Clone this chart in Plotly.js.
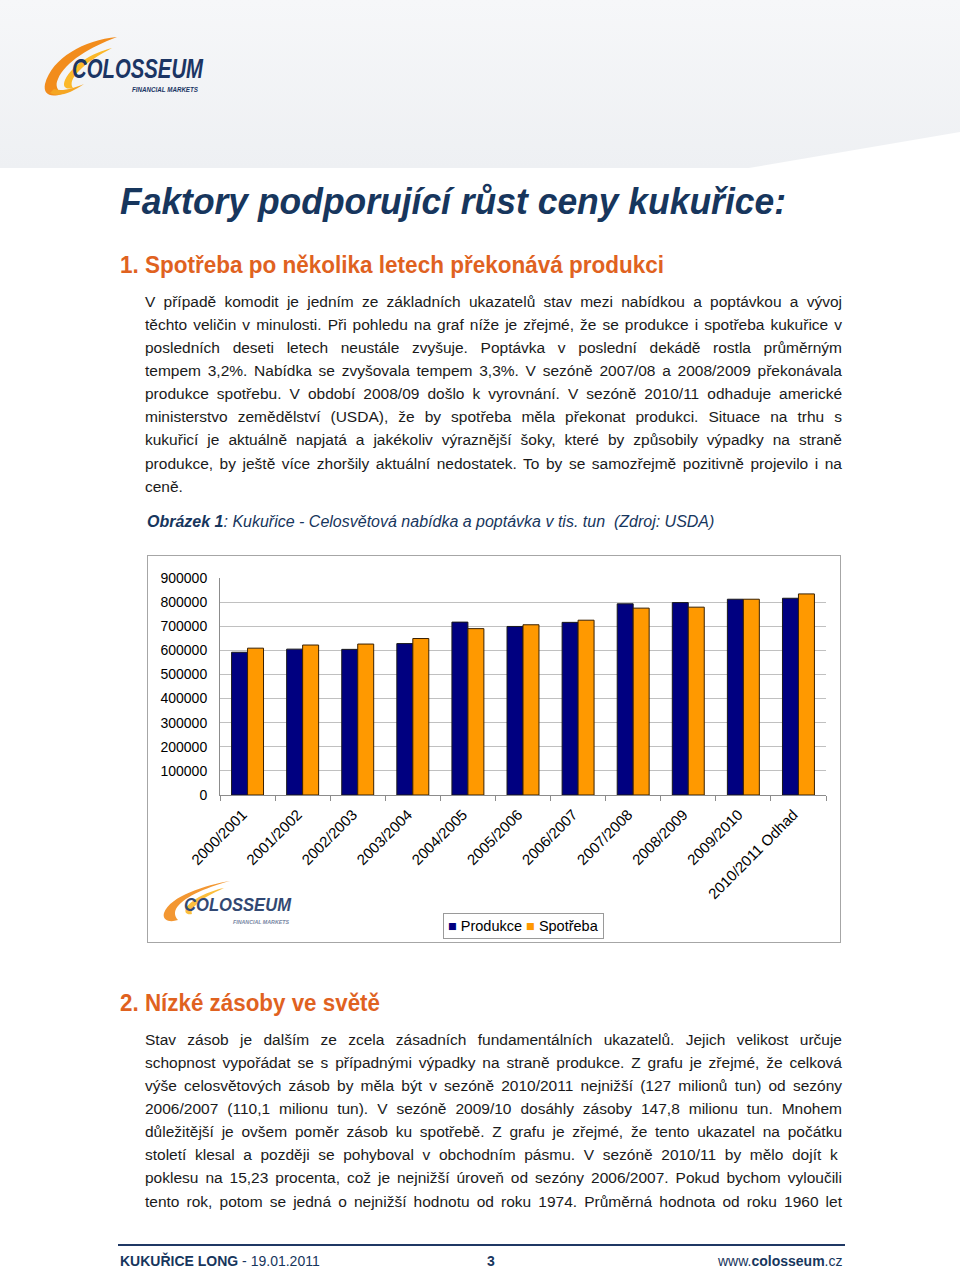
<!DOCTYPE html>
<html>
<head>
<meta charset="utf-8">
<script src="https://cdn.plot.ly/plotly-3.0.1.min.js"></script>
<style>
  html, body { margin:0; padding:0; background:#fff; }
  body { width:960px; height:1271px; position:relative; overflow:hidden;
         font-family:"Liberation Sans Narrow","Arial Narrow","Liberation Sans",Arial,sans-serif; color:#1a1a1a; }
  .hdrbg { position:absolute; left:0; top:0; width:960px; height:168px;
           background:linear-gradient(to bottom,#f6f7f9 0%,#eef0f3 100%);
           clip-path:polygon(0 0,100% 0,100% 132px,78% 100%,0 100%); }
  .abs { position:absolute; }
  .line { position:absolute; left:145px; width:697px; height:23px; line-height:23px;
          font-size:15.5px; white-space:nowrap; }
  .cap { position:absolute; left:147px; top:513px; font-family:"Liberation Sans",Arial,sans-serif;
         font-size:16px; font-style:italic; color:#17365d; white-space:nowrap; }
  #chartbox { position:absolute; left:147px; top:555px; width:694px; height:388px;
              border:1px solid #a6a6a6; box-sizing:border-box; background:#fff; }
  #chart { position:absolute; left:0; top:0; }
  .foot { position:absolute; top:1253px; font-size:14px; color:#17365d; white-space:nowrap; }
</style>
</head>
<body>
<div class="hdrbg"></div>

<!-- top logo -->
<svg class="abs" style="left:0;top:0" width="320" height="110">
  <path d="M117,37 C84,40 52,58 45,84 C43,94 50,98 62,94 C57,90 55,85 58,79 C65,62 90,47 117,37 Z" fill="#f28c1c"/>
  <path d="M112,48 C92,53 72,65 65,80 C62,87 66,90 73,88 C70,84 72,78 78,72 C87,62 99,55 112,48 Z" fill="#fbb829"/>
  <path d="M50,93 C60,98 72,92 84,84 C74,88 62,92 54,89 Z" fill="#f5a623"/>
  <text x="72" y="78" font-family="Liberation Sans, Arial, sans-serif" font-weight="bold" font-style="italic"
        font-size="27" textLength="131" lengthAdjust="spacingAndGlyphs" fill="#1b3564">COLOSSEUM</text>
  <text x="132" y="92" font-family="Liberation Sans, Arial, sans-serif" font-weight="bold" font-style="italic"
        font-size="7" textLength="66" lengthAdjust="spacingAndGlyphs" fill="#1b3564">FINANCIAL MARKETS</text>
</svg>

<!-- title & heading -->
<svg class="abs" style="left:0;top:160px" width="960" height="130">
  <text x="120" y="54" font-family="Liberation Sans, Arial, sans-serif" font-weight="bold" font-style="italic"
        font-size="37" textLength="666" lengthAdjust="spacingAndGlyphs" fill="#17365d">Faktory podporující růst ceny kukuřice:</text>
  <text x="120" y="113" font-family="Liberation Sans Narrow, Arial Narrow, Liberation Sans, Arial, sans-serif" font-weight="bold"
        font-size="23" textLength="544" lengthAdjust="spacingAndGlyphs" fill="#e0621f">1. Spotřeba po několika letech překonává produkci</text>
</svg>

<div id="para1"></div>

<div class="cap"><b>Obrázek 1</b>: Kukuřice - Celosvětová nabídka a poptávka v tis. tun&nbsp; (Zdroj: USDA)</div>

<div id="chartbox">
  <div id="chart"></div>
  <!-- chart logo -->
  <svg class="abs" style="left:0;top:0;pointer-events:none" width="694" height="388" opacity="0.9">
    <path d="M82,325 C58,329 22,340 16,357 C14,364 21,367 30,364 C27,361 26,357 28,353 C34,342 56,332 82,325 Z" fill="#f28c1c"/>
    <path d="M76,332 C61,335 44,343 38,352 C36,357 39,359 44,358 C43,355 44,352 48,349 C55,342 65,337 76,332 Z" fill="#fbb829"/>
    <text x="36" y="355" font-family="Liberation Sans, Arial, sans-serif" font-weight="bold" font-style="italic"
          font-size="19" textLength="107" lengthAdjust="spacingAndGlyphs" fill="#1b3564">COLOSSEUM</text>
    <text x="85" y="368" font-family="Liberation Sans, Arial, sans-serif" font-weight="bold" font-style="italic"
          font-size="5" textLength="56" lengthAdjust="spacingAndGlyphs" fill="#6b7a99">FINANCIAL MARKETS</text>
  </svg>
</div>

<svg class="abs" style="left:0;top:985px" width="960" height="40">
  <text x="120" y="26" font-family="Liberation Sans Narrow, Arial Narrow, Liberation Sans, Arial, sans-serif" font-weight="bold"
        font-size="23" textLength="260" lengthAdjust="spacingAndGlyphs" fill="#e0621f">2. Nízké zásoby ve světě</text>
</svg>

<div id="para2"></div>

<div class="abs" style="left:118px;top:1244px;width:727px;height:2px;background:#1f3864"></div>
<div class="foot" style="left:120px"><b>KUKUŘICE LONG</b> - 19.01.2011</div>
<div class="foot" style="left:487px"><b>3</b></div>
<div class="foot" style="left:718px">www.<b>colosseum</b>.cz</div>

<script>
// ---- chart data (thousand tonnes) ----
var categories = ["2000/2001","2001/2002","2002/2003","2003/2004","2004/2005","2005/2006",
                  "2006/2007","2007/2008","2008/2009","2009/2010","2010/2011 Odhad"];
var produkce = [592000, 605000, 604000, 628000, 717000, 699000, 716000, 793000, 798000, 812000, 816000];
var spotreba = [609000, 622000, 626000, 649000, 690000, 706000, 725000, 775000, 779000, 812000, 834000];
var seriesNames = ["Produkce", "Spotřeba"];
var seriesColors = ["#000080", "#ff9900"];

// ---- page text lines ----
var para1Lines = [
  "V případě komodit je jedním ze základních ukazatelů stav mezi nabídkou a poptávkou a vývoj",
  "těchto veličin v minulosti. Při pohledu na graf níže je zřejmé, že se produkce i spotřeba kukuřice v",
  "posledních deseti letech neustále zvyšuje. Poptávka v poslední dekádě rostla průměrným",
  "tempem 3,2%. Nabídka se zvyšovala tempem 3,3%. V sezóně 2007/08 a 2008/2009 překonávala",
  "produkce spotřebu. V období 2008/09 došlo k vyrovnání. V sezóně 2010/11 odhaduje americké",
  "ministerstvo zemědělství (USDA), že by spotřeba měla překonat produkci. Situace na trhu s",
  "kukuřicí je aktuálně napjatá a jakékoliv výraznější šoky, které by způsobily výpadky na straně",
  "produkce, by ještě více zhoršily aktuální nedostatek. To by se samozřejmě pozitivně projevilo i na",
  "ceně."
];
var para2Lines = [
  "Stav zásob je dalším ze zcela zásadních fundamentálních ukazatelů. Jejich velikost určuje",
  "schopnost vypořádat se s případnými výpadky na straně produkce. Z grafu je zřejmé, že celková",
  "výše celosvětových zásob by měla být v sezóně 2010/2011 nejnižší (127 milionů tun) od sezóny",
  "2006/2007 (110,1 milionu tun). V sezóně 2009/10 dosáhly zásoby 147,8 milionu tun. Mnohem",
  "důležitější je ovšem poměr zásob ku spotřebě. Z grafu je zřejmé, že tento ukazatel na počátku",
  "století klesal a později se pohyboval v  obchodním pásmu. V sezóně 2010/11 by mělo dojít k",
  "poklesu na 15,23 procenta, což je nejnižší úroveň od sezóny 2006/2007. Pokud bychom vyloučili",
  "tento rok, potom se jedná o nejnižší hodnotu od roku 1974. Průměrná hodnota od roku 1960 let"
];

function layLines(containerId, lines, firstCenter, step, lastJustified) {
  var box = document.getElementById(containerId);
  lines.forEach(function (txt, i) {
    var d = document.createElement("div");
    d.className = "line";
    d.style.top = (firstCenter + i * step - 11.5) + "px";
    var s = document.createElement("span");
    s.textContent = txt;
    d.appendChild(s);
    box.appendChild(d);
    var isLast = (i === lines.length - 1);
    if (!isLast || lastJustified) {
      var nat = s.getBoundingClientRect().width;
      var spaces = (txt.match(/ /g) || []).length;
      if (spaces > 0) {
        s.style.wordSpacing = ((697 - nat) / spaces) + "px";
      }
    }
  });
}
layLines("para1", para1Lines, 301, 23.15, false);
layLines("para2", para2Lines, 1039, 23.15, true);

var fontFam = "Liberation Sans, Arial, sans-serif";
var traces = [
  { type: "bar", name: seriesNames[0], x: categories, y: produkce,
    marker: { color: seriesColors[0], line: { color: "#1a1a1a", width: 1 } } },
  { type: "bar", name: seriesNames[1], x: categories, y: spotreba,
    marker: { color: seriesColors[1], line: { color: "#3a2000", width: 1 } } }
];
var legendText = "<span style='color:" + seriesColors[0] + "'>■</span> " + seriesNames[0] +
                 " <span style='color:" + seriesColors[1] + "'>■</span> " + seriesNames[1];
var layout = {
  width: 692, height: 386,
  margin: { l: 72, r: 14, t: 22, b: 147, autoexpand: false },
  paper_bgcolor: "rgba(0,0,0,0)", plot_bgcolor: "#ffffff",
  barmode: "group", bargap: 0.42, bargroupgap: 0,
  font: { family: fontFam, size: 14, color: "#000" },
  showlegend: false,
  annotations: [{
    xref: "paper", yref: "paper", x: 0.5, y: -0.603, xanchor: "center", yanchor: "middle",
    text: legendText, showarrow: false, bordercolor: "#9a9a9a", borderwidth: 1, borderpad: 4,
    bgcolor: "#ffffff", font: { family: fontFam, size: 14.5, color: "#000" }
  }],
  xaxis: { type: "category", tickangle: -45, tickson: "boundaries", ticks: "outside", automargin: false,
           ticklen: 5, tickcolor: "#8c8c8c", showline: true, linecolor: "#8c8c8c", linewidth: 1,
           ticklabelshift: -5, ticklabelstandoff: 4,
           showgrid: false, tickfont: { family: fontFam, size: 15, color: "#000" }, fixedrange: true },
  yaxis: { range: [0, 900000], dtick: 100000, tickformat: "d", showgrid: true, gridcolor: "#c0c0c0",
           gridwidth: 1, showline: true, linecolor: "#8c8c8c", linewidth: 1, ticks: "", automargin: false,
           ticklabelstandoff: 9, zeroline: false,
           tickfont: { family: fontFam, size: 14, color: "#000" }, fixedrange: true }
};
Plotly.newPlot("chart", traces, layout, { displayModeBar: false, staticPlot: true });
</script>
</body>
</html>
